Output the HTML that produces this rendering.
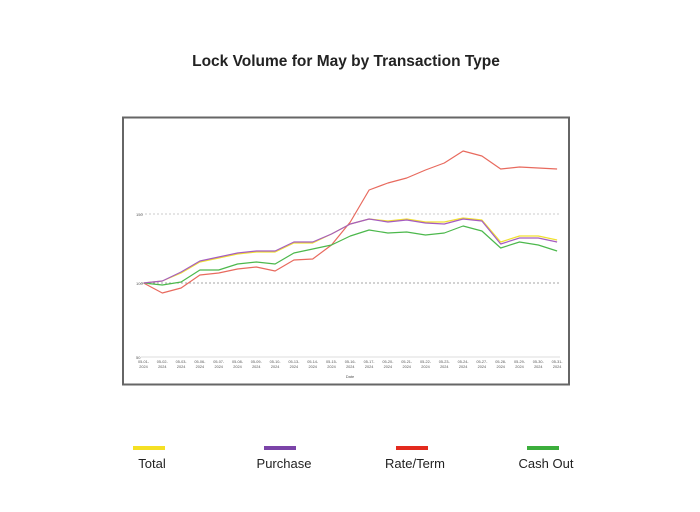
<!DOCTYPE html>
<html><head><meta charset="utf-8"><style>
html,body{margin:0;padding:0;background:#fff;width:700px;height:512px;overflow:hidden;font-family:"Liberation Sans",sans-serif}
</style></head><body>
<svg id="s" width="700" height="512" viewBox="0 0 700 512" xmlns="http://www.w3.org/2000/svg" font-family="Liberation Sans, sans-serif">
<text x="346" y="66" text-anchor="middle" font-size="15.5" font-weight="bold" fill="#222">Lock Volume for May by Transaction Type</text>
<rect x="123" y="117.5" width="446" height="267" fill="#fff" stroke="#666" stroke-width="2"/>
<line x1="141" y1="214" x2="560" y2="214" stroke="#bbb" stroke-dasharray="2,2" stroke-width="0.8"/>
<line x1="141" y1="283" x2="560" y2="283" stroke="#888" stroke-dasharray="2,2" stroke-width="0.8"/>
<line x1="141" y1="357" x2="560" y2="357" stroke="#ddd" stroke-width="1"/>
<text x="136" y="216" font-size="4" fill="#555">150</text>
<text x="136" y="285" font-size="4" fill="#555">100</text>
<text x="136" y="359" font-size="4" fill="#555">50</text>
<text x="350" y="378" font-size="4" fill="#555" text-anchor="middle">Date</text>
<g id="labels" font-size="3.8" fill="#555" text-anchor="middle"></g>
<g id="lines" fill="none" stroke-width="1.2" stroke-linejoin="round"></g>
<rect x="133" y="446" width="32" height="4" fill="#f5e024"/>
<rect x="264" y="446" width="32" height="4" fill="#7b44a8"/>
<rect x="396" y="446" width="32" height="4" fill="#e32a1e"/>
<rect x="527" y="446" width="32" height="4" fill="#3cae3c"/>
<g font-size="13" fill="#222" text-anchor="middle">
<text x="152" y="468">Total</text>
<text x="284" y="468">Purchase</text>
<text x="415" y="468">Rate/Term</text>
<text x="546" y="468">Cash Out</text>
</g>
</svg>
<script>
var d=["01","02","03","06","07","08","09","10","13","14","15","16","17","20","21","22","23","24","27","28","29","30","31"];
var X=function(i){return 143.5+18.8*i};
var L=document.getElementById("labels"),ns="http://www.w3.org/2000/svg",h="";
d.forEach(function(v,i){h+='<text x="'+X(i)+'" y="363">05-'+v+'-</text><text x="'+X(i)+'" y="368">2024</text>';});
L.innerHTML=h;
var S={
"#e86a5e":[283,293,288,275,273,269,267,271,260,259,245,222,190,183,178,170,163,151,156,169,167,168,169],
"#4cb84c":[283,285,282,270,270,264,262,264,253,249,245,236,230,233,232,235,233,226,231,248,242,245,251],
"#f0e030":[283,281,273,262,258,254,252,252,243,243,234,224,219,221,219,222,222,218,220,242,236,236,240],
"#a55cc0":[283,281,272,261,257,253,251,251,242,242,234,224,219,222,220,223,224,219,221,244,238,238,242]};
var g="";
for(var c in S){g+='<polyline stroke="'+c+'" points="'+S[c].map(function(y,i){return X(i)+","+y}).join(" ")+'"/>';}
document.getElementById("lines").innerHTML=g;
</script>
</body></html>
